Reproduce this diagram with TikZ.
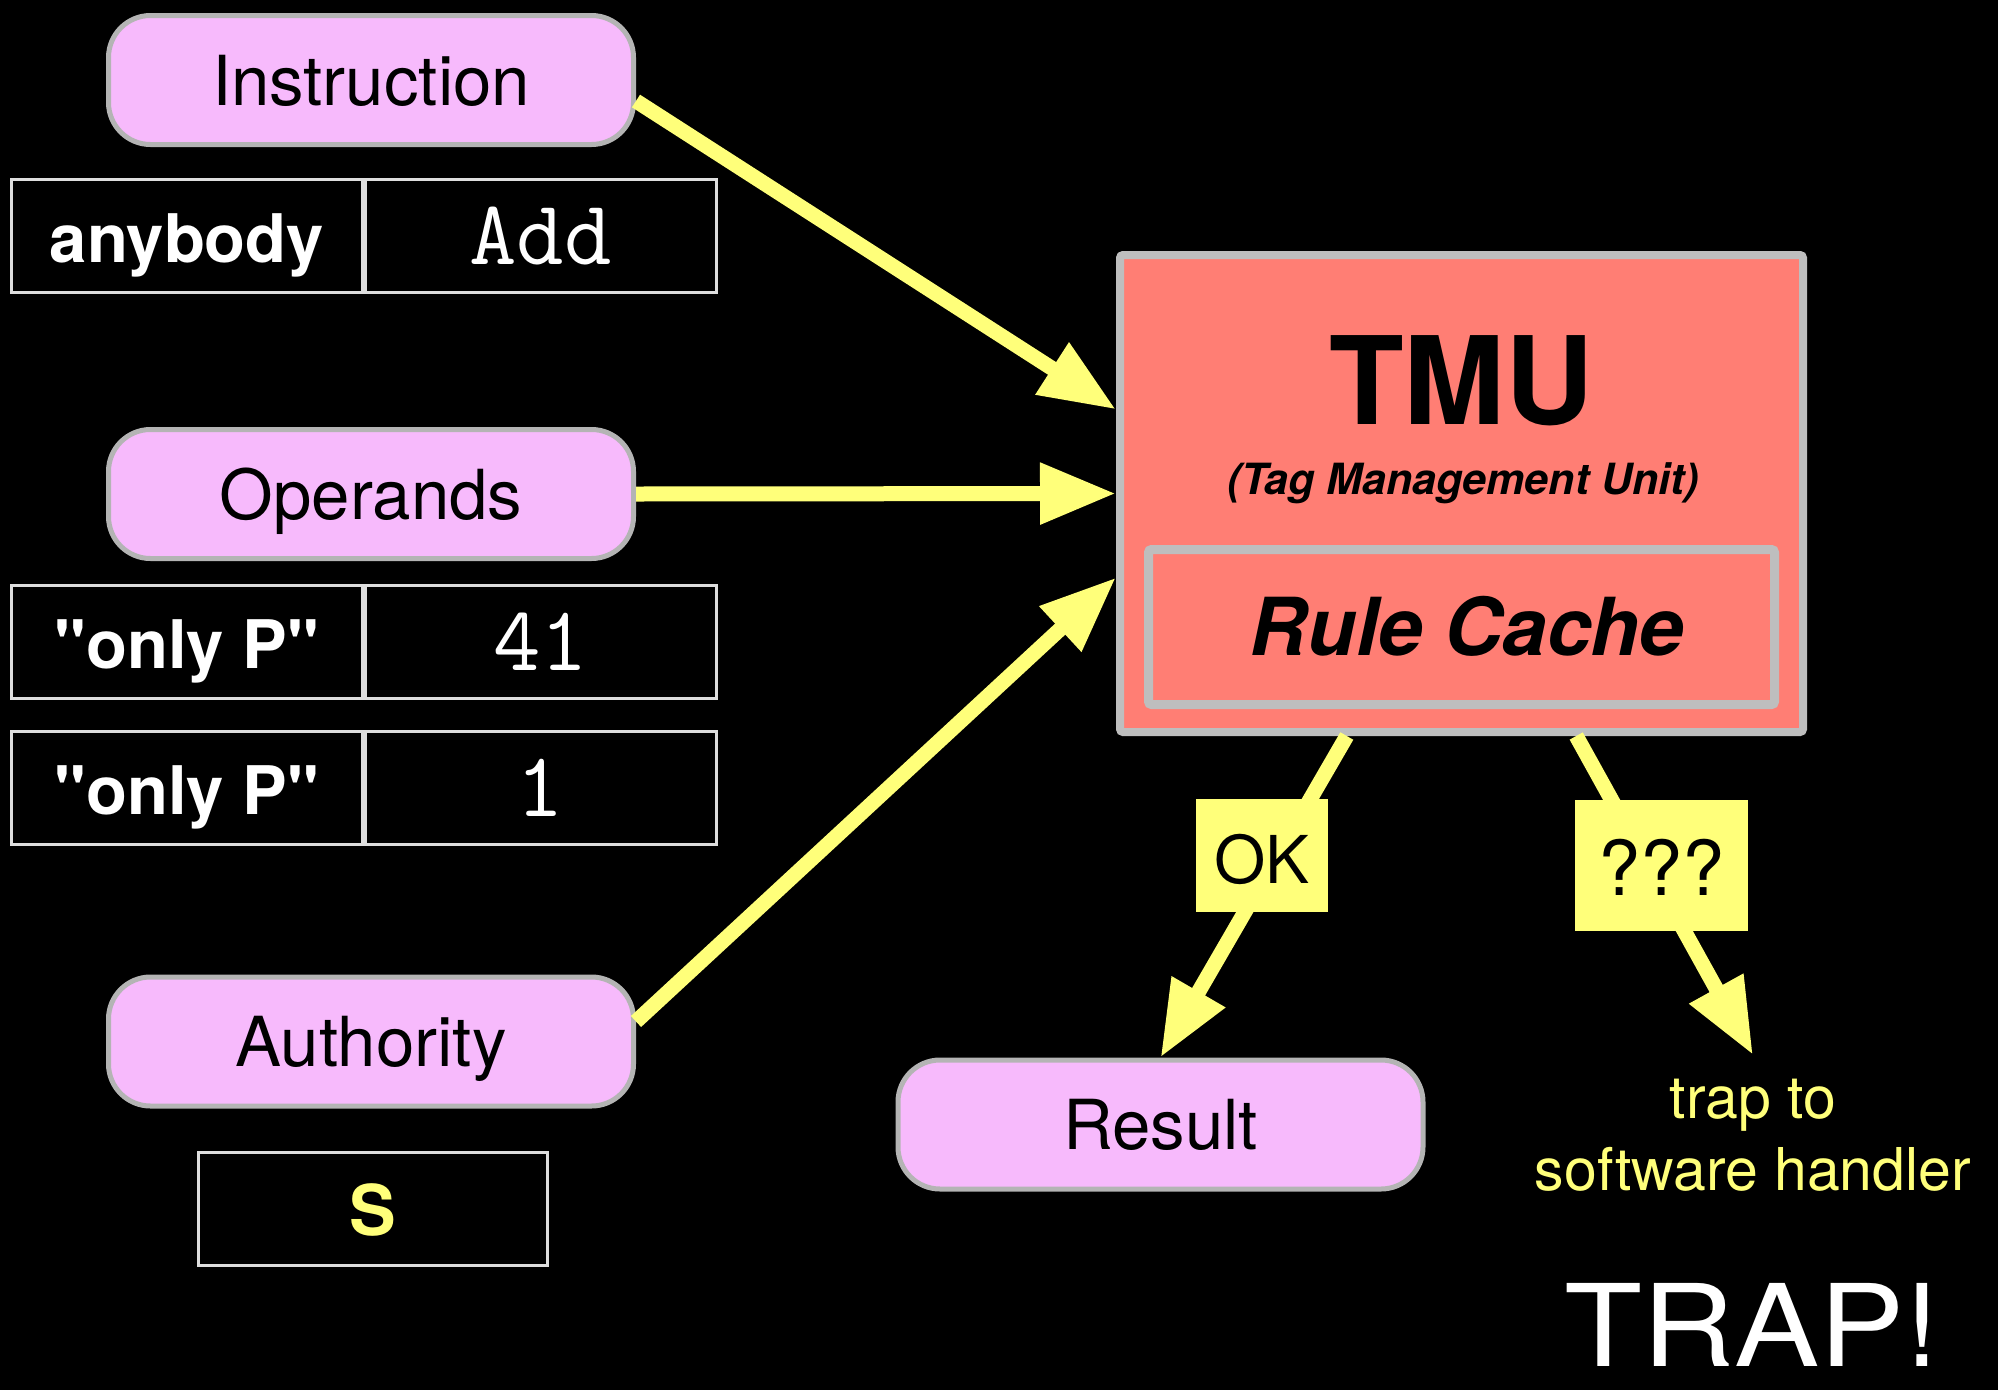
\documentclass[tikz,border=0pt]{standalone}
\usepackage{fontspec}
\setmainfont{TeX Gyre Heros}[Ligatures=TeXOff]
\usetikzlibrary{arrows.meta,calc}

\definecolor{pillpink}{RGB}{247,186,252}
\definecolor{pillgray}{RGB}{180,180,180}
\definecolor{tmured}{RGB}{255,126,116}
\definecolor{tmugray}{RGB}{190,190,190}
\definecolor{hiyellow}{RGB}{255,255,122}
\definecolor{cellline}{RGB}{222,222,222}

\newcommand{\fsz}[1]{\fontsize{#1}{#1}\selectfont}

\begin{document}
\begin{tikzpicture}[x=1pt, y=-1pt,
  pill/.style={draw=pillgray, line width=5pt, fill=pillpink, rounded corners=42pt,
    minimum width=525pt, minimum height=129pt, inner sep=0pt,
    text height=50pt, text depth=0pt, text=black, font=\fsz{69}},
  cell/.style={draw=cellline, line width=3pt, minimum width=351pt, minimum height=113pt,
    inner sep=0pt, text depth=0pt, text=white},
  tagword/.style={cell, text height=52pt, font=\bfseries\fsz{67}},
  codeword/.style={cell, text height=56pt, font=\ttfamily\fsz{92}},
  tmubox/.style={draw=tmugray, fill=tmured, line width=8pt, rounded corners=3pt, inner sep=0pt},
  flow/.style={draw=hiyellow, line width=15pt, -{Triangle[length=76pt,width=58pt]}},
  verdict/.style={fill=hiyellow, inner sep=0pt, text=black, text depth=0pt},
  note/.style={anchor=base, text=hiyellow, font=\fsz{59}}
]
% canvas
\fill[black] (0,0) rectangle (1998,1390);
\useasboundingbox (0,0) rectangle (1998,1390);

% inputs with their tags
\node[pill] (instr) at (371,80) {Instruction};
\node[tagword] (instrtag) at (187,236) {anybody};
\node[codeword] (instrval) at (540.5,236) {Add};

\node[pill] (operands) at (371,494) {Operands};
\node[tagword] (optagA) at (187,642) {"only P"};
\node[codeword] (opvalA) at (540.5,642) {41};
\node[tagword] (optagB) at (187,788) {"only P"};
\node[codeword] (opvalB) at (540.5,788) {1};

\node[pill] (authority) at (371,1041.5) {Authority};
\node[cell, minimum width=349pt, text height=52pt, text=hiyellow, font=\bfseries\fsz{70}] (authtag) at (373,1209) {S};

% tag management unit
\node[tmubox, minimum width=683pt, minimum height=477pt] (tmu) at (1461.5,493.5) {};
\node[anchor=base, font=\bfseries\fsz{122}] (tmutitle) at (1461.5,424) {TMU};
\node[anchor=base, font=\bfseries\itshape\fsz{43}] (tmusub) at (1463,494) {(Tag Management Unit)};
\node[tmubox, line width=9pt, minimum width=626pt, minimum height=155pt] (rules) at (1461.5,627) {};
\node[anchor=base, font=\bfseries\itshape\fsz{80}] (rulestext) at (1467,655) {Rule Cache};

% outputs
\node[pill] (result) at (1160.5,1124.5) {Result};
\coordinate (traptip) at (1753,1055);
\node[note] (trapA) at (1753,1118) {trap to};
\node[note] (trapB) at (1753,1190) {software handler};
\node[anchor=base, inner sep=0pt, text=white, font=\fsz{114}] (trapword) at (1752,1366) {\scalebox{1.12}[1]{TRAP!}};

% inputs into the unit
\draw[flow] ($(instr.east)+(0,21)$) -- ($(tmu.west)+(0,-84)$);
\draw[flow] (operands.east) -- (tmu.west);
\draw[flow] ($(authority.east)+(0,-20)$) -- ($(tmu.west)+(0,84)$);

% verdicts out of the unit
\draw[flow] ($(tmu.south west)!0.334!(tmu.south east)$) -- (result.north);
\draw[flow] ($(tmu.south west)!0.666!(tmu.south east)$) -- (traptip);
\node[verdict, minimum width=132pt, minimum height=113pt, text height=55pt, font=\fsz{66}] (ok) at (1262,855.5) {OK};
\node[verdict, minimum width=173pt, minimum height=131pt, text height=60pt, font=\fsz{76}] (unknown) at (1661.5,865.5) {???};
\end{tikzpicture}
\end{document}
